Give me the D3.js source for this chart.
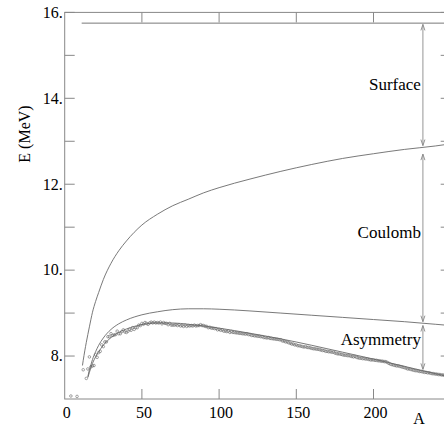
<!DOCTYPE html>
<html>
<head>
<meta charset="utf-8">
<script src="https://cdn.jsdelivr.net/npm/d3@7"></script>
<style>
  body { margin: 0; background: #fff; }
  text { font-family: "Liberation Serif", "DejaVu Serif", serif; fill: #000; }
</style>
</head>
<body>
<svg id="chart"></svg>
<script>
// binding energy per nucleon
const volumeA = [11, 250];
const volumeE = [15.75, 15.75];

const surfaceA = [11.5, 12, 13, 14, 16, 18, 20, 22, 25, 30, 35, 40, 45, 50, 60, 70, 80, 90, 100, 120, 140, 160, 180, 200, 220, 240, 250];
const surfaceE = [7.78, 7.9, 8.12, 8.32, 8.68, 9.02, 9.27, 9.48, 9.78, 10.16, 10.45, 10.68, 10.88, 11.05, 11.3, 11.5, 11.65, 11.8, 11.92, 12.12, 12.3, 12.46, 12.6, 12.71, 12.81, 12.89, 12.94];

const coulombA = [15, 16, 17, 18, 20, 22, 25, 30, 35, 40, 50, 60, 70, 80, 90, 100, 120, 140, 160, 180, 200, 220, 240, 250];
const coulombE = [7.52, 7.68, 7.8, 7.92, 8.1, 8.25, 8.42, 8.62, 8.75, 8.84, 8.96, 9.03, 9.08, 9.1, 9.1, 9.09, 9.05, 9.0, 8.95, 8.9, 8.85, 8.8, 8.74, 8.71];

const asymA = [15, 16, 18, 20, 22, 25, 30, 35, 40, 50, 60, 70, 80, 90, 100, 120, 140, 160, 180, 200, 220, 240, 250];
const asymE = [7.5, 7.62, 7.83, 7.98, 8.1, 8.25, 8.43, 8.55, 8.63, 8.73, 8.77, 8.77, 8.74, 8.7, 8.65, 8.53, 8.4, 8.25, 8.09, 7.93, 7.76, 7.59, 7.51];

// measured nuclei: light ones, then one per A from A = 17
const lightA = [4, 8, 12, 14, 15, 16];
const lightE = [7.07, 7.06, 7.68, 7.48, 7.70, 7.98];
const heavyStart = 17;
const heavyE = [
  7.75, 7.77, 7.78, 8.03, 7.97, 8.08, 8.11, 8.26, 8.22, 8.33,
  8.33, 8.45, 8.45, 8.52, 8.48, 8.49, 8.50, 8.58, 8.52, 8.52,
  8.57, 8.61, 8.56, 8.55, 8.58, 8.62, 8.60, 8.66, 8.62, 8.66,
  8.66, 8.72, 8.71, 8.76, 8.74, 8.78, 8.76, 8.74, 8.77, 8.79,
  8.77, 8.79, 8.77, 8.78, 8.77, 8.79, 8.75, 8.78, 8.76, 8.76,
  8.73, 8.76, 8.72, 8.72, 8.72, 8.73, 8.71, 8.73, 8.70, 8.71,
  8.69, 8.72, 8.69, 8.71, 8.70, 8.71, 8.70, 8.72, 8.70, 8.71,
  8.71, 8.73, 8.71, 8.71, 8.69, 8.69, 8.66, 8.67, 8.65, 8.65,
  8.64, 8.64, 8.61, 8.62, 8.60, 8.61, 8.58, 8.58, 8.57, 8.58,
  8.55, 8.57, 8.55, 8.55, 8.54, 8.54, 8.53, 8.53, 8.52, 8.52,
  8.51, 8.52, 8.50, 8.50, 8.48, 8.48, 8.47, 8.47, 8.46, 8.46,
  8.45, 8.45, 8.43, 8.43, 8.42, 8.43, 8.41, 8.41, 8.40, 8.40,
  8.39, 8.39, 8.38, 8.38, 8.35, 8.35, 8.33, 8.33, 8.31, 8.30,
  8.28, 8.28, 8.26, 8.26, 8.24, 8.24, 8.23, 8.22, 8.21, 8.22,
  8.20, 8.20, 8.19, 8.18, 8.17, 8.17, 8.16, 8.16, 8.15, 8.14,
  8.13, 8.13, 8.11, 8.11, 8.10, 8.10, 8.09, 8.09, 8.07, 8.06,
  8.05, 8.05, 8.04, 8.03, 8.02, 8.02, 8.01, 8.01, 8.00, 7.99,
  7.98, 7.99, 7.97, 7.96, 7.95, 7.95, 7.94, 7.94, 7.93, 7.93,
  7.92, 7.91, 7.91, 7.91, 7.90, 7.90, 7.89, 7.89, 7.88, 7.88,
  7.87, 7.87, 7.85, 7.83, 7.81, 7.80, 7.79, 7.78, 7.77, 7.77,
  7.76, 7.75, 7.74, 7.73, 7.72, 7.70, 7.70, 7.69, 7.68, 7.67,
  7.66, 7.66, 7.65, 7.64, 7.64, 7.63, 7.62, 7.62, 7.61, 7.61,
  7.60, 7.59, 7.59, 7.58, 7.58, 7.57, 7.57, 7.56, 7.56, 7.55
];

const yTicks = [8, 10, 12, 14, 16];
const yMinor = [9, 11, 13, 15];
const xTicks = [0, 50, 100, 150, 200];

// arrows at A = 232 : labels, top E, bottom E, label baseline E
const arrowA = 232;
const arrowLabels = ["Surface", "Coulomb", "Asymmetry"];
const arrowTop = [15.72, 12.7, 8.71];
const arrowBottom = [12.9, 8.8, 7.69];
const labelE = [14.2, 10.75, 8.25];

const width = 444, height = 427;
const x = d3.scaleLinear().domain([0, 250]).range([64.7, 450.7]);
const y = d3.scaleLinear().domain([7, 16]).range([399, 12.4]);

const svg = d3.select('#chart')
    .attr('width', width)
    .attr('height', height);

const frame = '#888';
const curveCol = '#6a6a6a';

// frame
svg.append('rect')
    .attr('x', x(0)).attr('y', y(16))
    .attr('width', x(250) - x(0)).attr('height', y(7) - y(16))
    .attr('fill', 'none').attr('stroke', frame).attr('stroke-width', 1);

// y ticks left and right, inward
const allY = yTicks.concat(yMinor);
svg.selectAll('.ytl').data(allY).join('line')
    .attr('x1', x(0)).attr('x2', x(0) + 10)
    .attr('y1', d => y(d)).attr('y2', d => y(d))
    .attr('stroke', frame);
svg.selectAll('.ytr').data(allY).join('line')
    .attr('x1', x(250)).attr('x2', x(250) - 10)
    .attr('y1', d => y(d)).attr('y2', d => y(d))
    .attr('stroke', frame);

// x ticks bottom and top
const xIn = xTicks.filter(d => d > 0);
svg.selectAll('.xtb').data(xIn).join('line')
    .attr('x1', d => x(d)).attr('x2', d => x(d))
    .attr('y1', y(7)).attr('y2', y(7) - 10)
    .attr('stroke', frame);
svg.selectAll('.xtt').data(xIn).join('line')
    .attr('x1', d => x(d)).attr('x2', d => x(d))
    .attr('y1', y(16)).attr('y2', y(16) + 10)
    .attr('stroke', frame);

svg.selectAll('.ylab').data(yTicks).join('text')
    .attr('x', x(0) - 2)
    .attr('y', d => y(d))
    .attr('dy', '0.33em')
    .attr('text-anchor', 'end')
    .style('font-size', '16px')
    .text(d => d + '.');

svg.selectAll('.xlab').data(xTicks).join('text')
    .attr('x', d => x(d) + 2)
    .attr('y', 418)
    .attr('text-anchor', 'middle')
    .style('font-size', '16px')
    .text(d => d);

svg.append('text')
    .attr('x', 419).attr('y', 424)
    .attr('text-anchor', 'middle')
    .style('font-size', '16px')
    .text('A');

svg.append('text')
    .attr('transform', 'translate(30,134) rotate(-90)')
    .attr('text-anchor', 'middle')
    .style('font-size', '16px')
    .text('E (MeV)');

// curves
const line = d3.line()
    .x(d => x(d[0]))
    .y(d => y(d[1]))
    .curve(d3.curveMonotoneX);

const curves = [
  [volumeA, volumeE],
  [surfaceA, surfaceE],
  [coulombA, coulombE],
  [asymA, asymE]
];
svg.selectAll('.curve').data(curves).join('path')
    .attr('d', c => line(d3.zip(c[0], c[1])))
    .attr('fill', 'none')
    .attr('stroke', curveCol)
    .attr('stroke-width', 0.9);

// data points
const points = d3.zip(lightA, lightE)
    .concat(heavyE.map((e, i) => [heavyStart + i, e]));
svg.selectAll('.pt').data(points).join('circle')
    .attr('cx', d => x(d[0]))
    .attr('cy', d => y(d[1]))
    .attr('r', 1.3)
    .attr('fill', 'none')
    .attr('stroke', '#666')
    .attr('stroke-width', 0.6);

// arrows
const ax = x(arrowA);
arrowLabels.forEach((lab, i) => {
  const t = y(arrowTop[i]), b = y(arrowBottom[i]);
  svg.append('line')
      .attr('x1', ax).attr('x2', ax)
      .attr('y1', t).attr('y2', b)
      .attr('stroke', frame).attr('stroke-width', 0.9);
  svg.append('path')
      .attr('d', `M${ax - 2},${t + 6}L${ax},${t}L${ax + 2},${t + 6}`)
      .attr('fill', 'none').attr('stroke', frame).attr('stroke-width', 0.9);
  svg.append('path')
      .attr('d', `M${ax - 2},${b - 6}L${ax},${b}L${ax + 2},${b - 6}`)
      .attr('fill', 'none').attr('stroke', frame).attr('stroke-width', 0.9);
  svg.append('text')
      .attr('x', ax - 2)
      .attr('y', y(labelE[i]))
      .attr('text-anchor', 'end')
      .style('font-size', '17px')
      .text(lab);
});
</script>
</body>
</html>
